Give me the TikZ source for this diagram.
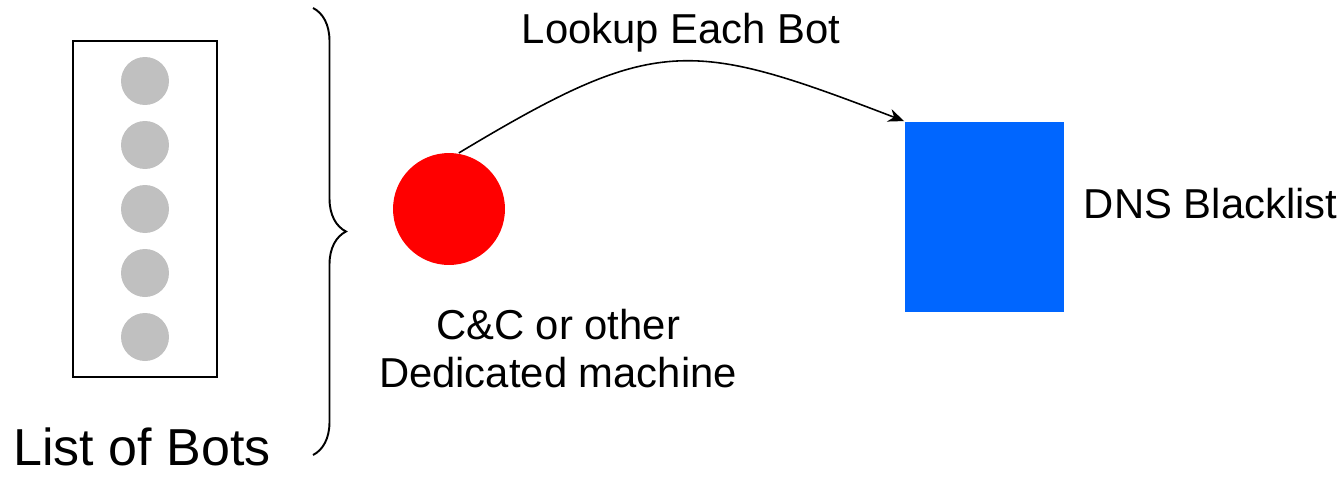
\documentclass[tikz,border=0pt]{standalone}
\usepackage{fontspec}
\setmainfont{Liberation Sans}
\usetikzlibrary{arrows.meta,decorations.pathreplacing}
\definecolor{botgray}{RGB}{192,192,192}
\definecolor{dnsblue}{RGB}{0,102,255}
\tikzset{
  lbl/.style={inner sep=0pt, font=\fontsize{23.8}{27.3}\selectfont},
  bot/.style={circle, fill=botgray, minimum size=0.96cm, inner sep=0pt},
}
\begin{document}
\begin{tikzpicture}[x=0.02cm, y=-0.02cm, line width=1.1pt]
    \useasboundingbox (0,0) rectangle (1344,477);
    % List of bots
    \node[draw, minimum width=2.88cm, minimum height=6.72cm] (botlist) at (145,209) {};
    \foreach \i/\y in {1/81, 2/145, 3/209, 4/273, 5/337}
        \node[bot] (bot\i) at (145,\y) {};
    \node[lbl, anchor=base, font=\fontsize{29.6}{34}\selectfont] (listlbl) at (142,465) {List of Bots};
    % Brace
    \coordinate (bracetop) at (313,8);
    \coordinate (bracebot) at (313,455);
    \draw[decorate, decoration={brace, amplitude=0.66cm}] (bracetop) -- (bracebot);
    % C&C machine
    \node[circle, fill=red, minimum size=2.24cm, inner sep=0pt] (cc) at (449,209) {};
    \node[lbl, align=center, anchor=base] (cclbl) at (558,387) {C\&C or other\\Dedicated machine};
    % DNS blacklist
    \node[fill=dnsblue, minimum width=3.18cm, minimum height=3.8cm, inner sep=0pt] (dnsbl) at (984.5,217) {};
    \node[lbl, anchor=base west] (dnslbl) at (1083,218) {DNS Blacklist};
    % Lookup
    \draw[-{Stealth[length=9pt, width=7.5pt]}, line width=0.9pt] (cc.80) to[out=31, in=159, looseness=1.32] (dnsbl.north west);
    \node[lbl, anchor=base] (lookup) at (681,43) {Lookup Each Bot};
\end{tikzpicture}
\end{document}
